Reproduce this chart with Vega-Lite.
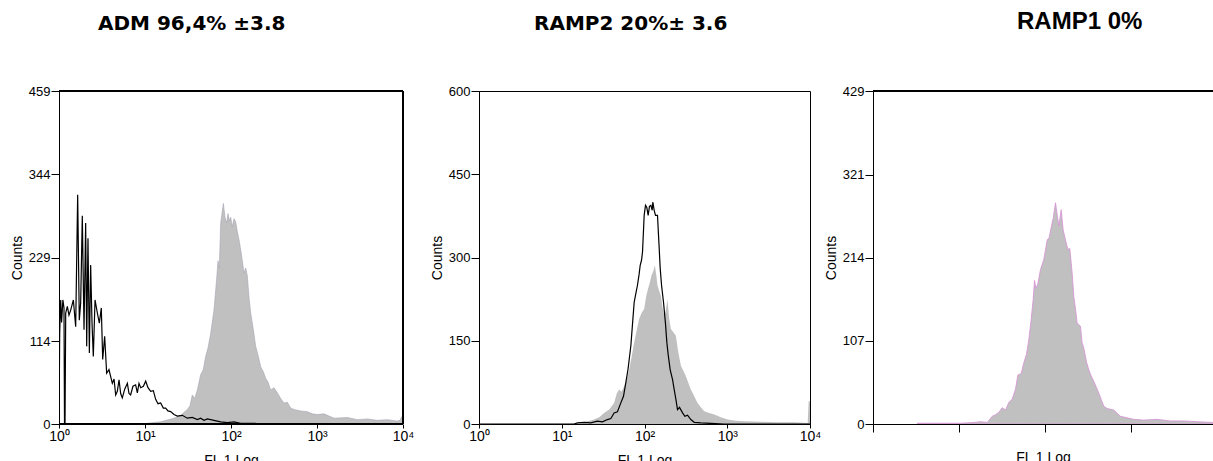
{
  "$schema": "https://vega.github.io/schema/vega-lite/v6.json",
  "background": "white",
  "padding": {"left": 10, "top": 10, "right": 0, "bottom": 0},
  "config": {
    "view": {"stroke": "black", "strokeWidth": 1},
    "axis": {"domainColor": "black", "tickColor": "black", "labelColor": "black", "titleColor": "black", "labelFont": "Liberation Sans", "titleFont": "Liberation Sans", "labelFontSize": 13, "titleFontSize": 14, "titleFontWeight": "normal", "grid": false, "domainWidth": 1, "tickWidth": 1},
    "title": {"color": "black", "fontWeight": "bold"}
  },
  "datasets": {
    "adm": [
      {"lg": 0.0, "n": 0, "s": "control"}, {"lg": 0.008, "n": 125, "s": "control"}, {"lg": 0.02, "n": 171, "s": "control"}, {"lg": 0.03, "n": 140, "s": "control"}, {"lg": 0.045, "n": 171, "s": "control"}, {"lg": 0.058, "n": 160, "s": "control"}, {"lg": 0.064, "n": 0, "s": "control"}, {"lg": 0.07, "n": 0, "s": "control"}, {"lg": 0.078, "n": 153, "s": "control"}, {"lg": 0.097, "n": 162, "s": "control"}, {"lg": 0.116, "n": 150, "s": "control"}, {"lg": 0.136, "n": 157, "s": "control"}, {"lg": 0.167, "n": 171, "s": "control"}, {"lg": 0.194, "n": 134, "s": "control"}, {"lg": 0.217, "n": 316, "s": "control"}, {"lg": 0.236, "n": 143, "s": "control"}, {"lg": 0.252, "n": 167, "s": "control"}, {"lg": 0.271, "n": 287, "s": "control"}, {"lg": 0.291, "n": 130, "s": "control"}, {"lg": 0.31, "n": 277, "s": "control"}, {"lg": 0.322, "n": 107, "s": "control"}, {"lg": 0.337, "n": 256, "s": "control"}, {"lg": 0.353, "n": 98, "s": "control"}, {"lg": 0.368, "n": 219, "s": "control"}, {"lg": 0.384, "n": 139, "s": "control"}, {"lg": 0.399, "n": 93, "s": "control"}, {"lg": 0.419, "n": 171, "s": "control"}, {"lg": 0.446, "n": 153, "s": "control"}, {"lg": 0.469, "n": 139, "s": "control"}, {"lg": 0.492, "n": 160, "s": "control"}, {"lg": 0.508, "n": 89, "s": "control"}, {"lg": 0.531, "n": 121, "s": "control"}, {"lg": 0.554, "n": 70, "s": "control"}, {"lg": 0.581, "n": 75, "s": "control"}, {"lg": 0.62, "n": 56, "s": "control"}, {"lg": 0.64, "n": 62, "s": "control"}, {"lg": 0.659, "n": 40, "s": "control"}, {"lg": 0.678, "n": 45, "s": "control"}, {"lg": 0.698, "n": 61, "s": "control"}, {"lg": 0.717, "n": 42, "s": "control"}, {"lg": 0.736, "n": 36, "s": "control"}, {"lg": 0.764, "n": 48, "s": "control"}, {"lg": 0.795, "n": 56, "s": "control"}, {"lg": 0.814, "n": 42, "s": "control"}, {"lg": 0.833, "n": 40, "s": "control"}, {"lg": 0.86, "n": 52, "s": "control"}, {"lg": 0.891, "n": 54, "s": "control"}, {"lg": 0.911, "n": 43, "s": "control"}, {"lg": 0.93, "n": 56, "s": "control"}, {"lg": 0.95, "n": 50, "s": "control"}, {"lg": 0.981, "n": 52, "s": "control"}, {"lg": 1.008, "n": 59, "s": "control"}, {"lg": 1.035, "n": 50, "s": "control"}, {"lg": 1.066, "n": 45, "s": "control"}, {"lg": 1.097, "n": 46, "s": "control"}, {"lg": 1.124, "n": 34, "s": "control"}, {"lg": 1.151, "n": 28, "s": "control"}, {"lg": 1.182, "n": 29, "s": "control"}, {"lg": 1.213, "n": 22, "s": "control"}, {"lg": 1.24, "n": 22, "s": "control"}, {"lg": 1.267, "n": 18, "s": "control"}, {"lg": 1.298, "n": 17, "s": "control"}, {"lg": 1.337, "n": 13, "s": "control"}, {"lg": 1.376, "n": 11, "s": "control"}, {"lg": 1.434, "n": 12, "s": "control"}, {"lg": 1.492, "n": 8, "s": "control"}, {"lg": 1.55, "n": 9, "s": "control"}, {"lg": 1.609, "n": 6, "s": "control"}, {"lg": 1.647, "n": 8, "s": "control"}, {"lg": 1.686, "n": 5, "s": "control"}, {"lg": 1.725, "n": 7, "s": "control"}, {"lg": 1.802, "n": 5, "s": "control"}, {"lg": 1.88, "n": 3, "s": "control"}, {"lg": 1.957, "n": 2, "s": "control"}, {"lg": 2.035, "n": 3, "s": "control"}, {"lg": 2.112, "n": 1, "s": "control"}, {"lg": 2.209, "n": 1, "s": "control"}, {"lg": 2.287, "n": 1, "s": "control"},
      {"lg": 1.027, "n": 1, "s": "stained"}, {"lg": 1.182, "n": 3, "s": "stained"}, {"lg": 1.337, "n": 8, "s": "stained"}, {"lg": 1.415, "n": 12, "s": "stained"}, {"lg": 1.492, "n": 20, "s": "stained"}, {"lg": 1.523, "n": 25, "s": "stained"}, {"lg": 1.55, "n": 40, "s": "stained"}, {"lg": 1.578, "n": 35, "s": "stained"}, {"lg": 1.609, "n": 47, "s": "stained"}, {"lg": 1.647, "n": 68, "s": "stained"}, {"lg": 1.678, "n": 75, "s": "stained"}, {"lg": 1.705, "n": 93, "s": "stained"}, {"lg": 1.733, "n": 105, "s": "stained"}, {"lg": 1.764, "n": 125, "s": "stained"}, {"lg": 1.802, "n": 157, "s": "stained"}, {"lg": 1.833, "n": 200, "s": "stained"}, {"lg": 1.849, "n": 225, "s": "stained"}, {"lg": 1.864, "n": 215, "s": "stained"}, {"lg": 1.88, "n": 277, "s": "stained"}, {"lg": 1.895, "n": 290, "s": "stained"}, {"lg": 1.911, "n": 304, "s": "stained"}, {"lg": 1.93, "n": 285, "s": "stained"}, {"lg": 1.95, "n": 277, "s": "stained"}, {"lg": 1.965, "n": 290, "s": "stained"}, {"lg": 1.981, "n": 280, "s": "stained"}, {"lg": 1.996, "n": 285, "s": "stained"}, {"lg": 2.016, "n": 272, "s": "stained"}, {"lg": 2.035, "n": 283, "s": "stained"}, {"lg": 2.054, "n": 279, "s": "stained"}, {"lg": 2.074, "n": 265, "s": "stained"}, {"lg": 2.093, "n": 254, "s": "stained"}, {"lg": 2.12, "n": 235, "s": "stained"}, {"lg": 2.151, "n": 208, "s": "stained"}, {"lg": 2.171, "n": 215, "s": "stained"}, {"lg": 2.19, "n": 204, "s": "stained"}, {"lg": 2.209, "n": 175, "s": "stained"}, {"lg": 2.229, "n": 153, "s": "stained"}, {"lg": 2.26, "n": 130, "s": "stained"}, {"lg": 2.287, "n": 107, "s": "stained"}, {"lg": 2.314, "n": 95, "s": "stained"}, {"lg": 2.345, "n": 79, "s": "stained"}, {"lg": 2.376, "n": 72, "s": "stained"}, {"lg": 2.403, "n": 63, "s": "stained"}, {"lg": 2.43, "n": 58, "s": "stained"}, {"lg": 2.461, "n": 47, "s": "stained"}, {"lg": 2.5, "n": 50, "s": "stained"}, {"lg": 2.539, "n": 43, "s": "stained"}, {"lg": 2.578, "n": 35, "s": "stained"}, {"lg": 2.616, "n": 29, "s": "stained"}, {"lg": 2.655, "n": 30, "s": "stained"}, {"lg": 2.694, "n": 22, "s": "stained"}, {"lg": 2.733, "n": 20, "s": "stained"}, {"lg": 2.81, "n": 18, "s": "stained"}, {"lg": 2.888, "n": 17, "s": "stained"}, {"lg": 2.946, "n": 14, "s": "stained"}, {"lg": 3.004, "n": 13, "s": "stained"}, {"lg": 3.081, "n": 14, "s": "stained"}, {"lg": 3.198, "n": 8, "s": "stained"}, {"lg": 3.353, "n": 9, "s": "stained"}, {"lg": 3.469, "n": 6, "s": "stained"}, {"lg": 3.585, "n": 7, "s": "stained"}, {"lg": 3.702, "n": 5, "s": "stained"}, {"lg": 3.818, "n": 6, "s": "stained"}, {"lg": 3.934, "n": 4, "s": "stained"}, {"lg": 3.965, "n": 5, "s": "stained"}, {"lg": 3.984, "n": 10, "s": "stained"}, {"lg": 4.0, "n": 12, "s": "stained"}
    ],
    "ramp2": [
      {"lg": 0.0, "n": 0, "s": "control"}, {"lg": 1.149, "n": 0, "s": "control"}, {"lg": 1.19, "n": 2, "s": "control"}, {"lg": 1.27, "n": 3, "s": "control"}, {"lg": 1.351, "n": 2, "s": "control"}, {"lg": 1.431, "n": 5, "s": "control"}, {"lg": 1.492, "n": 4, "s": "control"}, {"lg": 1.552, "n": 8, "s": "control"}, {"lg": 1.593, "n": 10, "s": "control"}, {"lg": 1.633, "n": 20, "s": "control"}, {"lg": 1.673, "n": 22, "s": "control"}, {"lg": 1.714, "n": 38, "s": "control"}, {"lg": 1.746, "n": 50, "s": "control"}, {"lg": 1.774, "n": 74, "s": "control"}, {"lg": 1.802, "n": 100, "s": "control"}, {"lg": 1.835, "n": 141, "s": "control"}, {"lg": 1.855, "n": 180, "s": "control"}, {"lg": 1.875, "n": 219, "s": "control"}, {"lg": 1.895, "n": 235, "s": "control"}, {"lg": 1.915, "n": 250, "s": "control"}, {"lg": 1.935, "n": 270, "s": "control"}, {"lg": 1.948, "n": 286, "s": "control"}, {"lg": 1.964, "n": 295, "s": "control"}, {"lg": 1.976, "n": 310, "s": "control"}, {"lg": 1.996, "n": 376, "s": "control"}, {"lg": 2.012, "n": 394, "s": "control"}, {"lg": 2.028, "n": 390, "s": "control"}, {"lg": 2.044, "n": 376, "s": "control"}, {"lg": 2.06, "n": 392, "s": "control"}, {"lg": 2.077, "n": 394, "s": "control"}, {"lg": 2.093, "n": 385, "s": "control"}, {"lg": 2.101, "n": 400, "s": "control"}, {"lg": 2.117, "n": 385, "s": "control"}, {"lg": 2.133, "n": 376, "s": "control"}, {"lg": 2.157, "n": 376, "s": "control"}, {"lg": 2.173, "n": 330, "s": "control"}, {"lg": 2.19, "n": 280, "s": "control"}, {"lg": 2.206, "n": 250, "s": "control"}, {"lg": 2.23, "n": 219, "s": "control"}, {"lg": 2.254, "n": 180, "s": "control"}, {"lg": 2.27, "n": 147, "s": "control"}, {"lg": 2.286, "n": 125, "s": "control"}, {"lg": 2.31, "n": 98, "s": "control"}, {"lg": 2.339, "n": 80, "s": "control"}, {"lg": 2.359, "n": 62, "s": "control"}, {"lg": 2.379, "n": 45, "s": "control"}, {"lg": 2.399, "n": 26, "s": "control"}, {"lg": 2.423, "n": 30, "s": "control"}, {"lg": 2.46, "n": 20, "s": "control"}, {"lg": 2.488, "n": 14, "s": "control"}, {"lg": 2.52, "n": 16, "s": "control"}, {"lg": 2.56, "n": 8, "s": "control"}, {"lg": 2.601, "n": 3, "s": "control"}, {"lg": 2.681, "n": 2, "s": "control"}, {"lg": 2.802, "n": 1, "s": "control"}, {"lg": 2.964, "n": 0, "s": "control"}, {"lg": 4.0, "n": 0, "s": "control"},
      {"lg": 1.109, "n": 0, "s": "stained"}, {"lg": 1.23, "n": 2, "s": "stained"}, {"lg": 1.391, "n": 8, "s": "stained"}, {"lg": 1.452, "n": 12, "s": "stained"}, {"lg": 1.512, "n": 20, "s": "stained"}, {"lg": 1.573, "n": 26, "s": "stained"}, {"lg": 1.633, "n": 38, "s": "stained"}, {"lg": 1.665, "n": 55, "s": "stained"}, {"lg": 1.694, "n": 62, "s": "stained"}, {"lg": 1.722, "n": 58, "s": "stained"}, {"lg": 1.754, "n": 68, "s": "stained"}, {"lg": 1.786, "n": 80, "s": "stained"}, {"lg": 1.815, "n": 98, "s": "stained"}, {"lg": 1.843, "n": 120, "s": "stained"}, {"lg": 1.875, "n": 147, "s": "stained"}, {"lg": 1.907, "n": 170, "s": "stained"}, {"lg": 1.935, "n": 189, "s": "stained"}, {"lg": 1.964, "n": 200, "s": "stained"}, {"lg": 1.996, "n": 207, "s": "stained"}, {"lg": 2.02, "n": 230, "s": "stained"}, {"lg": 2.044, "n": 244, "s": "stained"}, {"lg": 2.065, "n": 255, "s": "stained"}, {"lg": 2.085, "n": 268, "s": "stained"}, {"lg": 2.105, "n": 275, "s": "stained"}, {"lg": 2.125, "n": 286, "s": "stained"}, {"lg": 2.141, "n": 270, "s": "stained"}, {"lg": 2.157, "n": 250, "s": "stained"}, {"lg": 2.177, "n": 240, "s": "stained"}, {"lg": 2.198, "n": 231, "s": "stained"}, {"lg": 2.218, "n": 210, "s": "stained"}, {"lg": 2.238, "n": 195, "s": "stained"}, {"lg": 2.258, "n": 205, "s": "stained"}, {"lg": 2.278, "n": 225, "s": "stained"}, {"lg": 2.298, "n": 190, "s": "stained"}, {"lg": 2.319, "n": 171, "s": "stained"}, {"lg": 2.351, "n": 165, "s": "stained"}, {"lg": 2.379, "n": 159, "s": "stained"}, {"lg": 2.407, "n": 130, "s": "stained"}, {"lg": 2.44, "n": 105, "s": "stained"}, {"lg": 2.472, "n": 95, "s": "stained"}, {"lg": 2.5, "n": 86, "s": "stained"}, {"lg": 2.528, "n": 75, "s": "stained"}, {"lg": 2.56, "n": 62, "s": "stained"}, {"lg": 2.601, "n": 50, "s": "stained"}, {"lg": 2.641, "n": 38, "s": "stained"}, {"lg": 2.681, "n": 30, "s": "stained"}, {"lg": 2.722, "n": 23, "s": "stained"}, {"lg": 2.782, "n": 20, "s": "stained"}, {"lg": 2.843, "n": 17, "s": "stained"}, {"lg": 2.923, "n": 12, "s": "stained"}, {"lg": 3.004, "n": 8, "s": "stained"}, {"lg": 3.105, "n": 6, "s": "stained"}, {"lg": 3.206, "n": 5, "s": "stained"}, {"lg": 3.407, "n": 4, "s": "stained"}, {"lg": 3.609, "n": 3, "s": "stained"}, {"lg": 3.81, "n": 3, "s": "stained"}, {"lg": 3.972, "n": 2, "s": "stained"}, {"lg": 3.984, "n": 41, "s": "stained"}, {"lg": 4.0, "n": 41, "s": "stained"}
    ],
    "ramp1": [
      {"lg": 0.515, "n": 1, "s": "stained"}, {"lg": 0.708, "n": 1, "s": "stained"}, {"lg": 0.825, "n": 1, "s": "stained"}, {"lg": 1.018, "n": 1, "s": "stained"}, {"lg": 1.173, "n": 2, "s": "stained"}, {"lg": 1.25, "n": 3, "s": "stained"}, {"lg": 1.328, "n": 2, "s": "stained"}, {"lg": 1.386, "n": 10, "s": "stained"}, {"lg": 1.425, "n": 12, "s": "stained"}, {"lg": 1.463, "n": 15, "s": "stained"}, {"lg": 1.502, "n": 21, "s": "stained"}, {"lg": 1.541, "n": 18, "s": "stained"}, {"lg": 1.58, "n": 28, "s": "stained"}, {"lg": 1.618, "n": 32, "s": "stained"}, {"lg": 1.657, "n": 45, "s": "stained"}, {"lg": 1.684, "n": 63, "s": "stained"}, {"lg": 1.723, "n": 65, "s": "stained"}, {"lg": 1.754, "n": 79, "s": "stained"}, {"lg": 1.785, "n": 90, "s": "stained"}, {"lg": 1.812, "n": 109, "s": "stained"}, {"lg": 1.839, "n": 135, "s": "stained"}, {"lg": 1.862, "n": 160, "s": "stained"}, {"lg": 1.878, "n": 185, "s": "stained"}, {"lg": 1.893, "n": 175, "s": "stained"}, {"lg": 1.916, "n": 180, "s": "stained"}, {"lg": 1.947, "n": 199, "s": "stained"}, {"lg": 1.986, "n": 212, "s": "stained"}, {"lg": 2.025, "n": 237, "s": "stained"}, {"lg": 2.048, "n": 240, "s": "stained"}, {"lg": 2.073, "n": 254, "s": "stained"}, {"lg": 2.095, "n": 265, "s": "stained"}, {"lg": 2.122, "n": 285, "s": "stained"}, {"lg": 2.141, "n": 270, "s": "stained"}, {"lg": 2.161, "n": 255, "s": "stained"}, {"lg": 2.188, "n": 276, "s": "stained"}, {"lg": 2.211, "n": 250, "s": "stained"}, {"lg": 2.238, "n": 237, "s": "stained"}, {"lg": 2.265, "n": 225, "s": "stained"}, {"lg": 2.288, "n": 226, "s": "stained"}, {"lg": 2.315, "n": 195, "s": "stained"}, {"lg": 2.335, "n": 164, "s": "stained"}, {"lg": 2.358, "n": 145, "s": "stained"}, {"lg": 2.373, "n": 130, "s": "stained"}, {"lg": 2.412, "n": 126, "s": "stained"}, {"lg": 2.431, "n": 105, "s": "stained"}, {"lg": 2.451, "n": 98, "s": "stained"}, {"lg": 2.482, "n": 80, "s": "stained"}, {"lg": 2.509, "n": 70, "s": "stained"}, {"lg": 2.536, "n": 62, "s": "stained"}, {"lg": 2.567, "n": 55, "s": "stained"}, {"lg": 2.598, "n": 47, "s": "stained"}, {"lg": 2.625, "n": 40, "s": "stained"}, {"lg": 2.652, "n": 32, "s": "stained"}, {"lg": 2.683, "n": 23, "s": "stained"}, {"lg": 2.722, "n": 20, "s": "stained"}, {"lg": 2.799, "n": 18, "s": "stained"}, {"lg": 2.838, "n": 14, "s": "stained"}, {"lg": 2.876, "n": 10, "s": "stained"}, {"lg": 2.954, "n": 8, "s": "stained"}, {"lg": 3.031, "n": 6, "s": "stained"}, {"lg": 3.147, "n": 5, "s": "stained"}, {"lg": 3.302, "n": 6, "s": "stained"}, {"lg": 3.457, "n": 4, "s": "stained"}, {"lg": 3.612, "n": 4, "s": "stained"}, {"lg": 3.767, "n": 3, "s": "stained"}, {"lg": 3.95, "n": 2, "s": "stained"}
    ]
  },
  "bounds": "flush",
  "spacing": 63,
  "hconcat": [
    {
      "width": 357,
      "height": 333,
      "view": {"stroke": null},
      "title": {"text": "ADM 96,4% ±3.8", "font": "DejaVu Sans", "fontSize": 20, "fontWeight": "bold", "anchor": "start", "frame": "group", "baseline": "alphabetic", "offset": 35, "dx": 39},
      "data": {"name": "adm"},
      "encoding": {
        "x": {"field": "lg", "type": "quantitative", "scale": {"domain": [0, 4.151], "nice": false, "zero": false}, "axis": {"values": [0, 1, 2, 3, 4], "labelExpr": "'10' + ['⁰','¹','²','³','⁴'][datum.value]", "domain": false, "tickSize": 4, "labelPadding": 1, "labelFlush": false, "labelFontSize": 14, "titleFontSize": 14, "title": "FL 1 Log", "titlePadding": 10, "titleX": 172}},
        "y": {"field": "n", "type": "quantitative", "scale": {"domain": [0, 459], "nice": false}, "axis": {"values": [0, 114, 229, 344, 459], "title": "Counts", "tickSize": 8, "labelPadding": 1, "labelFlush": false, "labelFontSize": 13, "titleFontSize": 14}}
      },
      "layer": [
        {"transform": [{"filter": "datum.s == 'stained'"}], "mark": {"type": "area", "color": "#c0c0c0", "stroke": "#a4a4b4", "strokeWidth": 0.6, "clip": true}},
        {"transform": [{"filter": "datum.s == 'control'"}], "mark": {"type": "line", "color": "black", "strokeWidth": 1.2, "clip": true}},
        {"mark": {"type": "rule", "color": "black", "strokeWidth": 1}, "encoding": {"x": {"datum": 0}, "x2": {"datum": 4}, "y": {"datum": 0}}},
        {"mark": {"type": "rule", "color": "black", "strokeWidth": 1}, "encoding": {"x": {"datum": 0}, "x2": {"datum": 4}, "y": {"datum": 459}}},
        {"mark": {"type": "rule", "color": "black", "strokeWidth": 1}, "encoding": {"x": {"datum": 4}, "y": {"datum": 0}, "y2": {"datum": 459}}}
      ]
    },
    {
      "width": 331,
      "height": 333,
      "title": {"text": "RAMP2 20%± 3.6", "font": "DejaVu Sans", "fontSize": 20, "fontWeight": "bold", "anchor": "start", "frame": "group", "baseline": "alphabetic", "offset": 35, "dx": 55},
      "data": {"name": "ramp2"},
      "encoding": {
        "x": {"field": "lg", "type": "quantitative", "scale": {"domain": [0, 4], "nice": false, "zero": false}, "axis": {"values": [0, 1, 2, 3, 4], "labelExpr": "'10' + ['⁰','¹','²','³','⁴'][datum.value]", "tickSize": 4, "labelPadding": 1, "labelFlush": false, "labelFontSize": 14, "titleFontSize": 14, "title": "FL 1 Log", "titlePadding": 10}},
        "y": {"field": "n", "type": "quantitative", "scale": {"domain": [0, 600], "nice": false}, "axis": {"values": [0, 150, 300, 450, 600], "title": "Counts", "tickSize": 8, "labelPadding": 1, "labelFlush": false, "labelFontSize": 13, "titleFontSize": 14}}
      },
      "layer": [
        {"transform": [{"filter": "datum.s == 'stained'"}], "mark": {"type": "area", "color": "#c0c0c0", "strokeWidth": 0, "clip": true}},
        {"transform": [{"filter": "datum.s == 'control'"}], "mark": {"type": "line", "color": "black", "strokeWidth": 1.2, "clip": true}}
      ]
    },
    {
      "width": 340,
      "height": 333,
      "view": {"stroke": null},
      "title": {"text": "RAMP1 0%", "font": "Liberation Sans", "fontSize": 24, "fontWeight": "bold", "anchor": "start", "frame": "group", "baseline": "alphabetic", "offset": 32, "dx": 144},
      "data": {"name": "ramp1"},
      "encoding": {
        "x": {"field": "lg", "type": "quantitative", "scale": {"domain": [0, 3.953], "nice": false, "zero": false}, "axis": {"values": [0, 1, 2, 3], "labels": false, "tickSize": 8, "titleFontSize": 14, "title": "FL 1 Log", "titlePadding": 18}},
        "y": {"field": "n", "type": "quantitative", "scale": {"domain": [0, 429], "nice": false}, "axis": {"values": [0, 107, 214, 321, 429], "title": "Counts", "tickSize": 8, "labelPadding": 1, "labelFlush": false, "labelFontSize": 13, "titleFontSize": 14}}
      },
      "layer": [
        {"mark": {"type": "area", "color": "#c0c0c0", "stroke": "#d590d5", "strokeWidth": 0.8, "clip": true}},
        {"mark": {"type": "rule", "color": "black", "strokeWidth": 1.2}, "encoding": {"x": {"datum": 0}, "x2": {"datum": 3.953}, "y": {"datum": 429}}}
      ]
    }
  ]
}
